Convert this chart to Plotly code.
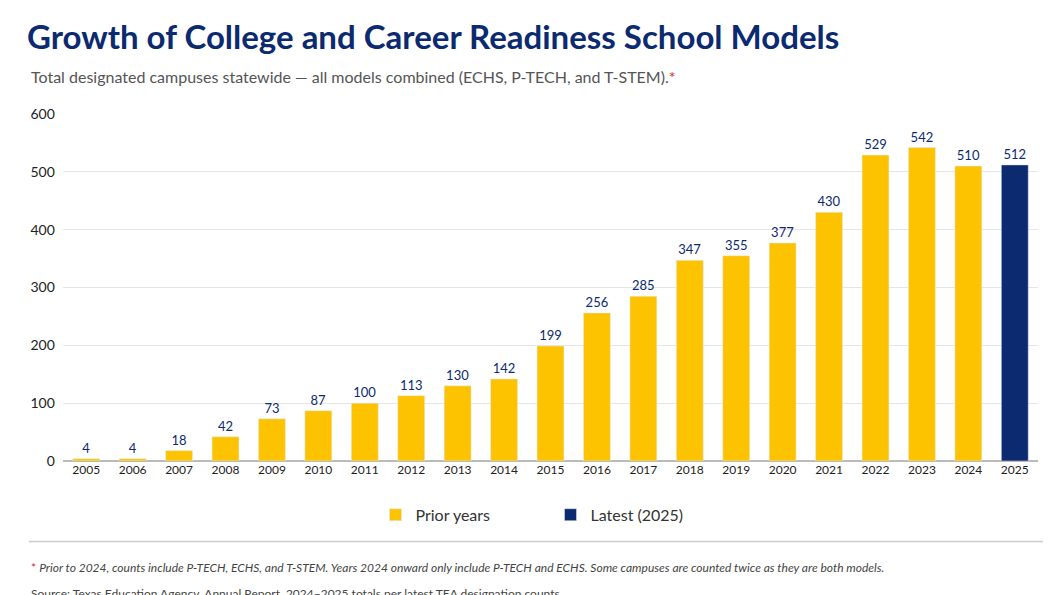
import plotly.graph_objs as go

# data
years = [str(y) for y in range(2005, 2026)]
campuses = [4, 4, 18, 42, 73, 87, 100, 113, 130, 142, 199, 256, 285, 347, 355, 377, 430, 529, 542, 510, 512]

gold = '#FDC300'
navy = '#0B2A6F'

fig = go.Figure()
fig.add_trace(go.Bar(
    x=years[:-1], y=campuses[:-1], name='Prior years',
    marker=dict(color=gold), text=campuses[:-1], textposition='outside',
    textfont=dict(color=navy, size=13, family='Lato'), cliponaxis=False,
))
fig.add_trace(go.Bar(
    x=years[-1:], y=campuses[-1:], name='Latest (2025)',
    marker=dict(color=navy), text=campuses[-1:], textposition='outside',
    textfont=dict(color=navy, size=13, family='Lato'), cliponaxis=False,
))

fig.update_layout(
    width=1057, height=595,
    paper_bgcolor='white', plot_bgcolor='white',
    margin=dict(l=55, r=27, t=106, b=142),
    barmode='overlay', bargap=0.42,
    font=dict(family='Lato', color='#333'),
    title=dict(text='<b>Growth of College and Career Readiness School Models</b>',
               x=0.018, y=0.97, xanchor='left', yanchor='top',
               font=dict(size=33, color='#0B2A6F', family='Lato')),
    xaxis=dict(type='category', tickfont=dict(size=12, color='#222'), showgrid=False,
               showline=False, ticks=''),
    yaxis=dict(range=[0, 600], dtick=100, gridcolor='#e6e6e6', zeroline=True,
               zerolinecolor='#bbbbbb', tickfont=dict(size=14, color='#222'), ticksuffix='  '),
    legend=dict(orientation='h', x=0.5, xanchor='center', y=-0.155, yanchor='middle',
                font=dict(size=16, color='#333'), itemwidth=30, entrywidthmode='pixels', entrywidth=130),
    showlegend=True,
)

fig.add_annotation(text='Total designated campuses statewide \u2014 all models combined (ECHS, P-TECH, and T-STEM).<span style="color:#d62728">*</span>',
                   xref='paper', yref='paper', x=-0.035, y=1.107, xanchor='left', yanchor='middle',
                   showarrow=False, font=dict(size=16, color='#555'))
fig.add_shape(type='line', xref='paper', yref='paper', x0=-0.035, x1=1.005, y0=-0.232, y1=-0.232,
              line=dict(color='#cccccc', width=1.5))
fig.add_annotation(text='<span style="color:#d62728">*</span> <i>Prior to 2024, counts include P-TECH, ECHS, and T-STEM. Years 2024 onward only include P-TECH and ECHS. Some campuses are counted twice as they are both models.</i>',
                   xref='paper', yref='paper', x=-0.035, y=-0.307, xanchor='left', yanchor='middle',
                   showarrow=False, font=dict(size=12, color='#444'))
fig.add_annotation(text='Source: Texas Education Agency, Annual Report. 2024\u20132025 totals per latest TEA designation counts.',
                   xref='paper', yref='paper', x=-0.035, y=-0.383, xanchor='left', yanchor='middle',
                   showarrow=False, font=dict(size=12, color='#444'))

fig.write_html("out.html")
